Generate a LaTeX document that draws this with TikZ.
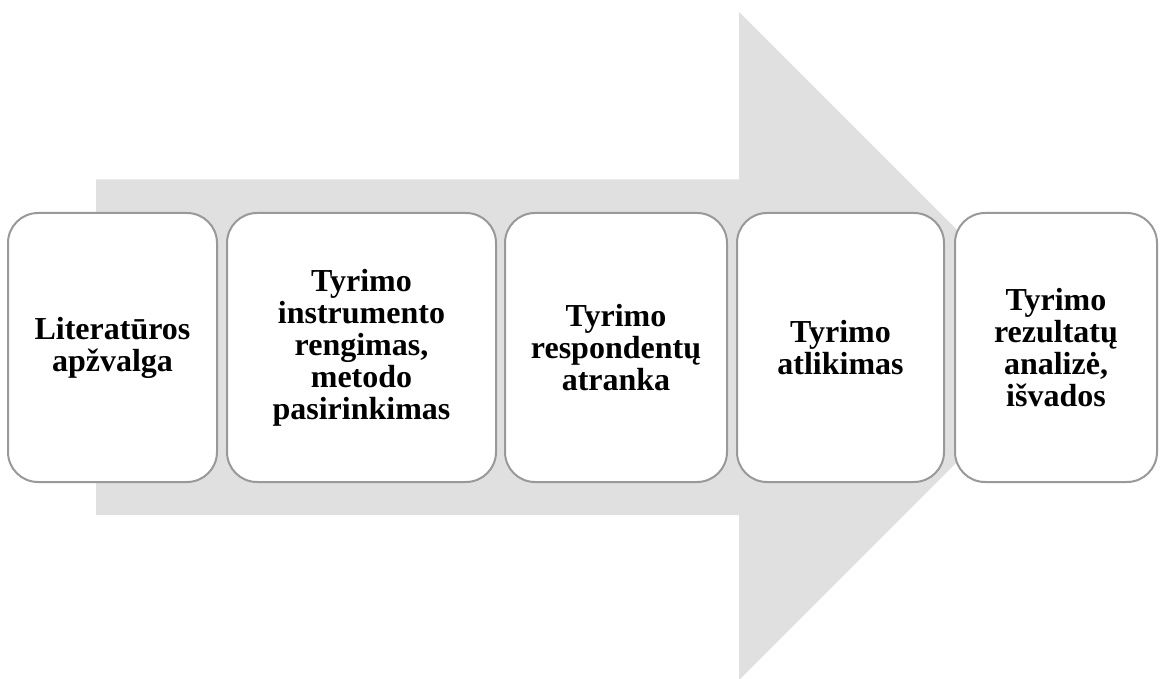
\documentclass[tikz,border=0pt]{standalone}
\usepackage{fontspec}
\setmainfont{Liberation Serif}
\definecolor{arrowgray}{HTML}{E0E0E0}
\definecolor{boxborder}{HTML}{999999}
\begin{document}
\begin{tikzpicture}[x=1pt,y=-1pt,
  stage/.style={draw=boxborder, line width=2pt, fill=white, rounded corners=30pt,
    minimum height=269pt, inner sep=0pt, align=center,
    font=\fontsize{32}{32}\selectfont\bfseries}]
\useasboundingbox (0,0) rectangle (1160,679);
% big background arrow
\fill[arrowgray] (96,179.5) -- (739,179.5) -- (739,12) -- (1073,346) -- (739,680) -- (739,515) -- (96,515) -- cycle;
% stages
\node[stage, minimum width=209pt] (s1) at (112.5,347.5) {Literatūros\\apžvalga};
\node[stage, minimum width=269pt] (s2) at (361.5,347.5) {Tyrimo\\instrumento\\rengimas,\\metodo\\pasirinkimas};
\node[stage, minimum width=222pt] (s3) at (616,347.5) {Tyrimo\\respondentų\\atranka};
\node[stage, minimum width=207pt] (s4) at (840.5,347.5) {Tyrimo\\atlikimas};
\node[stage, minimum width=202pt] (s5) at (1056,347.5) {Tyrimo\\rezultatų\\analizė,\\išvados};
\end{tikzpicture}
\end{document}
